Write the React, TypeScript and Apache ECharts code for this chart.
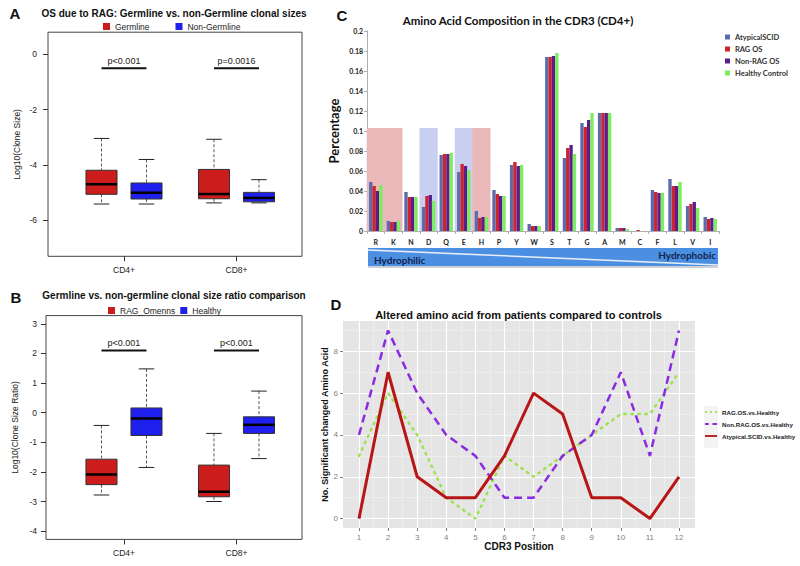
import React, { useEffect, useRef } from 'react';
import * as echarts from 'echarts';

// ---------- Panel A / B data : [min, Q1, median, Q3, max] per cell group ----------
const cellGroups = ['CD4+', 'CD8+'];
const aGermline = [
  [-5.41, -5.06, -4.7, -4.19, -3.04],
  [-5.37, -5.22, -5.05, -4.16, -3.07],
];
const aNonGermline = [
  [-5.41, -5.23, -5.0, -4.65, -3.8],
  [-5.37, -5.33, -5.19, -4.99, -4.53],
];
const aPValues = ['p<0.001', 'p=0.0016'];
const aTicks = [-6, -4, -2, 0];

const bRagOmenns = [
  [-2.78, -2.43, -2.09, -1.57, -0.43],
  [-3.0, -2.84, -2.67, -1.77, -0.7],
];
const bHealthy = [
  [-1.85, -0.77, -0.2, 0.16, 1.48],
  [-1.55, -0.7, -0.41, -0.14, 0.73],
];
const bPValues = ['p<0.001', 'p<0.001'];
const bTicks = [-4, -3, -2, -1, 0, 1, 2, 3];

// ---------- Panel C data ----------
const aminoAcids = ['R', 'K', 'N', 'D', 'Q', 'E', 'H', 'P', 'Y', 'W', 'S', 'T', 'G', 'A', 'M', 'C', 'F', 'L', 'V', 'I'];
const atypicalSCID = [0.049, 0.01, 0.039, 0.024, 0.076, 0.059, 0.02, 0.041, 0.066, 0.007, 0.174, 0.073, 0.108, 0.118, 0.003, 0.0, 0.041, 0.052, 0.025, 0.014];
const ragOS = [0.045, 0.009, 0.034, 0.035, 0.077, 0.067, 0.013, 0.037, 0.069, 0.005, 0.174, 0.083, 0.104, 0.118, 0.003, 0.001, 0.039, 0.045, 0.027, 0.012];
const nonRagOS = [0.04, 0.009, 0.034, 0.036, 0.077, 0.065, 0.014, 0.035, 0.065, 0.005, 0.175, 0.086, 0.111, 0.118, 0.003, 0.0, 0.038, 0.045, 0.029, 0.013];
const healthyControl = [0.046, 0.01, 0.034, 0.03, 0.078, 0.061, 0.014, 0.035, 0.066, 0.005, 0.178, 0.077, 0.118, 0.118, 0.002, 0.0, 0.038, 0.049, 0.023, 0.012];
const basicResidues = ['R', 'K', 'H'];
const acidicResidues = ['D', 'E'];
const shadeLevel = 0.103;

// ---------- Panel D data ----------
const cdr3Positions = [1, 2, 3, 4, 5, 6, 7, 8, 9, 10, 11, 12];
const ragVsHealthy = [3, 6, 4, 1, 0, 3, 2, 3, 4, 5, 5, 7];
const nonRagVsHealthy = [4, 9, 6, 4, 3, 1, 1, 3, 4, 7, 3, 9];
const atypicalVsHealthy = [0, 7, 2, 1, 1, 3, 6, 5, 1, 1, 0, 2];
const dYTicks = [0, 2, 4, 6, 8];
const dYMinor = [1, 3, 5, 7, 9];

const FONT_R = '"Liberation Sans", Arial, sans-serif';
const FONT_C = 'Lato, "Open Sans", sans-serif';

const boxRender = (params: any, api: any) => {
  const x = api.value(0);
  const c = (i: number) => api.coord([x, api.value(i)]);
  const pMin = c(1), pQ1 = c(2), pMed = c(3), pQ3 = c(4), pMax = c(5);
  const w = api.size([0.69, 0])[0];
  const cx = pMed[0];
  const color = api.visual('color');
  const dash = { stroke: '#555', lineWidth: 1, lineDash: [3, 2] };
  const solid = { stroke: '#222', lineWidth: 1 };
  return {
    type: 'group',
    children: [
      { type: 'line', shape: { x1: cx, y1: pMax[1], x2: cx, y2: pQ3[1] }, style: dash },
      { type: 'line', shape: { x1: cx, y1: pQ1[1], x2: cx, y2: pMin[1] }, style: dash },
      { type: 'line', shape: { x1: cx - w / 4, y1: pMax[1], x2: cx + w / 4, y2: pMax[1] }, style: solid },
      { type: 'line', shape: { x1: cx - w / 4, y1: pMin[1], x2: cx + w / 4, y2: pMin[1] }, style: solid },
      { type: 'rect', shape: { x: cx - w / 2, y: pQ3[1], width: w, height: pQ1[1] - pQ3[1] }, style: { fill: color, stroke: '#333', lineWidth: 1 } },
      { type: 'line', shape: { x1: cx - w / 2, y1: pMed[1], x2: cx + w / 2, y2: pMed[1] }, style: { stroke: '#000', lineWidth: 2.5 } },
    ],
  };
};

const boxSeries = (name: string, data: number[][], offset: number, axis: number, color: string) => ({
  type: 'custom',
  name,
  xAxisIndex: axis,
  yAxisIndex: axis,
  silent: true,
  itemStyle: { color },
  renderItem: boxRender,
  encode: { x: 0, y: [1, 2, 3, 4, 5] },
  data: data.map((q, i) => [i * 2.5 + 1.5 + offset, ...q]),
});

const pSeries = (labels: string[], level: number, axis: number) => ({
  type: 'custom',
  xAxisIndex: axis,
  yAxisIndex: axis,
  silent: true,
  encode: { x: [0, 1], y: 2 },
  renderItem: (params: any, api: any) => {
    const p1 = api.coord([api.value(0), api.value(2)]);
    const p2 = api.coord([api.value(1), api.value(2)]);
    return {
      type: 'group',
      children: [
        { type: 'line', shape: { x1: p1[0], y1: p1[1], x2: p2[0], y2: p2[1] }, style: { stroke: '#111', lineWidth: 2 } },
        {
          type: 'text',
          x: (p1[0] + p2[0]) / 2,
          y: p1[1] - 3,
          style: { text: labels[params.dataIndex], textAlign: 'center', textVerticalAlign: 'bottom', fontSize: 9, fontFamily: FONT_R, fill: '#222' },
        },
      ],
    };
  },
  data: labels.map((_, i) => [i * 2.5 + 1, i * 2.5 + 2, level]),
});

const groupLabel = (v: number) => cellGroups[Math.round((v - 1.5) / 2.5)] ?? '';

const rAxisX = (gridIndex: number, min: number, max: number) => ({
  type: 'value',
  gridIndex,
  min,
  max,
  axisLine: { show: false, onZero: false },
  splitLine: { show: false },
  axisTick: { show: true, length: 5, customValues: [1.5, 4], lineStyle: { color: '#333' } },
  axisLabel: { customValues: [1.5, 4], formatter: groupLabel, fontSize: 8.5, fontFamily: FONT_R, color: '#222', margin: 9 },
});

const rAxisY = (gridIndex: number, min: number, max: number, ticks: number[], name: string, margin: number) => ({
  type: 'value',
  gridIndex,
  min,
  max,
  name,
  nameLocation: 'middle',
  nameRotate: 90,
  nameGap: 27,
  nameTextStyle: { fontSize: 8.5, fontFamily: FONT_R, color: '#222' },
  axisLine: { show: false, onZero: false },
  splitLine: { show: false },
  axisTick: { show: true, length: 5, customValues: ticks, lineStyle: { color: '#333' } },
  axisLabel: { customValues: ticks, fontSize: 8.5, fontFamily: FONT_R, color: '#222', margin },
});

const lineIcon = 'path://M0,3h13v2h-13z';
const dashIcon = 'path://M0,3h4v2h-4z M8,3h5v2h-5z';
const dotIcon = 'path://M0,3h2v2h-2z M5.5,3h2v2h-2z M11,3h2v2h-2z';

export default function App() {
  const ref = useRef<HTMLDivElement>(null);
  useEffect(() => {
    if (!ref.current) return;
    const chart = echarts.init(ref.current, undefined, { renderer: 'svg' });
    const red = '#cc1c1c';
    const blue = '#1f1fee';

    const option: any = {
      animation: false,
      backgroundColor: '#fff',
      grid: [
        { left: 48, top: 32.2, width: 254, height: 224.1, show: true, borderColor: '#444', borderWidth: 1, backgroundColor: 'transparent' },
        { left: 46, top: 315.6, width: 256, height: 223.8, show: true, borderColor: '#444', borderWidth: 1, backgroundColor: 'transparent' },
        { left: 367, top: 31, width: 352, height: 200 },
        { left: 343, top: 321, width: 352, height: 207, show: true, backgroundColor: '#e5e5e5', borderWidth: 0 },
      ],
      xAxis: [
        rAxisX(0, -0.189, 5.456),
        rAxisX(1, -0.233, 5.456),
        {
          type: 'category',
          gridIndex: 2,
          data: aminoAcids,
          axisLine: { lineStyle: { color: '#b0b0b0' } },
          axisTick: { show: true, length: 3, interval: 0, lineStyle: { color: '#b0b0b0' } },
          axisLabel: { interval: 0, fontSize: 7, fontWeight: 'bold', fontFamily: FONT_C, color: '#222', margin: 7 },
        },
        {
          type: 'value',
          gridIndex: 3,
          min: 0.45,
          max: 12.55,
          name: 'CDR3 Position',
          nameLocation: 'middle',
          nameGap: 13,
          nameTextStyle: { fontSize: 10, fontWeight: 'bold', fontFamily: FONT_R, color: '#111' },
          axisLine: { show: false, onZero: false },
          axisTick: { show: true, length: 3, customValues: cdr3Positions, lineStyle: { color: '#7f7f7f' } },
          axisLabel: { customValues: cdr3Positions, fontSize: 8, fontFamily: FONT_R, color: '#7f7f7f', margin: 5 },
          splitLine: { show: true, lineStyle: { color: '#ffffff', width: 1.2 } },
        },
        {
          type: 'value',
          gridIndex: 3,
          position: 'top',
          min: 0.45,
          max: 12.55,
          axisLine: { show: false, onZero: false },
          axisTick: { show: false, customValues: cdr3Positions.slice(0, -1).map((p) => p + 0.5) },
          axisLabel: { show: false },
          splitLine: { show: true, lineStyle: { color: '#f2f2f2', width: 0.6 } },
        },
      ],
      yAxis: [
        rAxisY(0, -7.3, 0.8, aTicks, 'Log10(Clone Size)', 11),
        rAxisY(1, -4.28, 3.28, bTicks, 'Log10(Clone Size Ratio)', 9),
        {
          type: 'value',
          gridIndex: 2,
          min: 0,
          max: 0.2,
          interval: 0.02,
          name: 'Percentage',
          nameLocation: 'middle',
          nameRotate: 90,
          nameGap: 27,
          nameTextStyle: { fontSize: 13, fontWeight: 'bold', fontFamily: FONT_C, color: '#111' },
          axisLine: { show: true, lineStyle: { color: '#b0b0b0' } },
          axisTick: { show: true, length: 3, lineStyle: { color: '#b0b0b0' } },
          splitLine: { show: false },
          axisLabel: {
            fontSize: 7,
            fontWeight: 'bold',
            fontFamily: FONT_C,
            color: '#222',
            margin: 4,
            formatter: (v: number) => (v === 0 ? '0' : String(parseFloat(v.toFixed(2)))),
          },
        },
        {
          type: 'value',
          gridIndex: 3,
          min: -0.45,
          max: 9.45,
          name: 'No. Significant changed Amino Acid',
          nameLocation: 'middle',
          nameRotate: 90,
          nameGap: 11,
          nameTextStyle: { fontSize: 9, fontWeight: 'bold', fontFamily: FONT_R, color: '#111' },
          axisLine: { show: false, onZero: false },
          axisTick: { show: true, length: 3, customValues: dYTicks, lineStyle: { color: '#7f7f7f' } },
          axisLabel: { customValues: dYTicks, fontSize: 8, fontFamily: FONT_R, color: '#7f7f7f', margin: 5 },
          splitLine: { show: true, lineStyle: { color: '#ffffff', width: 1.2 } },
        },
        {
          type: 'value',
          gridIndex: 3,
          position: 'right',
          min: -0.45,
          max: 9.45,
          axisLine: { show: false, onZero: false },
          axisTick: { show: false, customValues: dYMinor },
          axisLabel: { show: false },
          splitLine: { show: true, lineStyle: { color: '#f2f2f2', width: 0.6 } },
        },
      ],
      legend: [
        {
          data: ['Germline', 'Non-Germline'],
          left: 103,
          top: 22,
          padding: 0,
          icon: 'rect',
          itemWidth: 7,
          itemHeight: 7,
          itemGap: 26,
          selectedMode: false,
          textStyle: { fontSize: 8.5, fontFamily: FONT_R, color: '#222' },
        },
        {
          data: ['RAG_Omenns', 'Healthy'],
          left: 108,
          top: 306,
          padding: 0,
          icon: 'rect',
          itemWidth: 7,
          itemHeight: 7,
          itemGap: 5,
          selectedMode: false,
          textStyle: { fontSize: 8.5, fontFamily: FONT_R, color: '#222' },
        },
        {
          data: ['AtypicalSCID', 'RAG OS', 'Non-RAG OS', 'Healthy Control'],
          left: 725,
          top: 32,
          padding: 0,
          orient: 'vertical',
          icon: 'rect',
          itemWidth: 5,
          itemHeight: 5,
          itemGap: 2,
          selectedMode: false,
          textStyle: { fontSize: 7.5, fontWeight: 'bold', fontFamily: FONT_C, color: '#333', lineHeight: 10 },
        },
        {
          data: [
            { name: 'RAG.OS.vs.Healthy', icon: dotIcon },
            { name: 'Non.RAG.OS.vs.Healthy', icon: dashIcon },
            { name: 'Atypical.SCID.vs.Healthy', icon: lineIcon },
          ],
          left: 705,
          top: 409,
          padding: 0,
          orient: 'vertical',
          itemWidth: 12,
          itemHeight: 8,
          itemGap: 6,
          selectedMode: false,
          textStyle: { fontSize: 6.2, fontWeight: 'bold', fontFamily: FONT_R, color: '#222' },
        },
      ],
      graphic: [
        { type: 'text', x: 15, y: 13, style: { text: 'A', fontSize: 15, fontWeight: 'bold', fontFamily: FONT_R, fill: '#111', textAlign: 'center', textVerticalAlign: 'middle' } },
        { type: 'text', x: 16, y: 297, style: { text: 'B', fontSize: 15, fontWeight: 'bold', fontFamily: FONT_R, fill: '#111', textAlign: 'center', textVerticalAlign: 'middle' } },
        { type: 'text', x: 342, y: 15, style: { text: 'C', fontSize: 15, fontWeight: 'bold', fontFamily: FONT_R, fill: '#111', textAlign: 'center', textVerticalAlign: 'middle' } },
        { type: 'text', x: 336, y: 304, style: { text: 'D', fontSize: 15, fontWeight: 'bold', fontFamily: FONT_R, fill: '#111', textAlign: 'center', textVerticalAlign: 'middle' } },
        { type: 'text', x: 174, y: 13, style: { text: 'OS due to RAG: Germline vs. non-Germline clonal sizes', fontSize: 10, fontWeight: 'bold', fontFamily: FONT_R, fill: '#111', textAlign: 'center', textVerticalAlign: 'middle' } },
        { type: 'text', x: 174, y: 295, style: { text: 'Germline vs. non-germline clonal size ratio comparison', fontSize: 10, fontWeight: 'bold', fontFamily: FONT_R, fill: '#111', textAlign: 'center', textVerticalAlign: 'middle' } },
        { type: 'text', x: 518, y: 20, style: { text: 'Amino Acid Composition in the CDR3 (CD4+)', fontSize: 11.5, fontWeight: 'bold', fontFamily: FONT_C, fill: '#111', textAlign: 'center', textVerticalAlign: 'middle' } },
        { type: 'text', x: 518.5, y: 315, style: { text: 'Altered amino acid from patients compared to controls', fontSize: 11, fontWeight: 'bold', fontFamily: FONT_R, fill: '#111', textAlign: 'center', textVerticalAlign: 'middle' } },
        // hydrophilic / hydrophobic band
        { type: 'rect', shape: { x: 368, y: 248, width: 350, height: 18 }, style: { fill: '#4b8fe2' } },
        { type: 'line', shape: { x1: 368, y1: 250, x2: 718, y2: 265 }, style: { stroke: '#e8eef8', lineWidth: 1.5 } },
        { type: 'line', shape: { x1: 368, y1: 267, x2: 718, y2: 267 }, style: { stroke: '#9aa3b0', lineWidth: 1.2 } },
        { type: 'text', x: 374, y: 260, style: { text: 'Hydrophilic', fontSize: 10, fontWeight: 'bold', fontFamily: FONT_C, fill: '#132450', textVerticalAlign: 'middle' } },
        { type: 'text', x: 716, y: 255, style: { text: 'Hydrophobic', fontSize: 10, fontWeight: 'bold', fontFamily: FONT_C, fill: '#132450', textAlign: 'right', textVerticalAlign: 'middle' } },
        // legend key background D
        { type: 'rect', z: -1, shape: { x: 704, y: 406, width: 14, height: 42 }, style: { fill: '#f3f3f3' } },
      ],
      series: [
        boxSeries('Germline', aGermline, -0.5, 0, red),
        boxSeries('Non-Germline', aNonGermline, 0.5, 0, blue),
        pSeries(aPValues, -0.5, 0),
        boxSeries('RAG_Omenns', bRagOmenns, -0.5, 1, red),
        boxSeries('Healthy', bHealthy, 0.5, 1, blue),
        pSeries(bPValues, 2.1, 1),
        {
          type: 'custom',
          xAxisIndex: 2,
          yAxisIndex: 2,
          silent: true,
          z: 1,
          renderItem: (params: any, api: any) => {
            const idx = api.value(0);
            const top = api.coord([idx, api.value(1)]);
            const bottom = api.coord([idx, 0]);
            const bw = api.size([1, 0])[0];
            return {
              type: 'rect',
              shape: { x: top[0] - bw / 2 - 0.3, y: top[1], width: bw + 0.6, height: bottom[1] - top[1] },
              style: { fill: api.value(2) === 0 ? '#eab8b8' : '#c9cff0' },
            };
          },
          data: aminoAcids
            .map((a, i) => (basicResidues.includes(a) ? [i, shadeLevel, 0] : acidicResidues.includes(a) ? [i, shadeLevel, 1] : null))
            .filter((d) => d !== null),
        },
        ...[
          ['AtypicalSCID', atypicalSCID, '#5a6cb0'],
          ['RAG OS', ragOS, '#d0222b'],
          ['Non-RAG OS', nonRagOS, '#5b1d8e'],
          ['Healthy Control', healthyControl, '#7ced5e'],
        ].map(([name, data, color]) => ({
          type: 'bar',
          name,
          xAxisIndex: 2,
          yAxisIndex: 2,
          data,
          z: 2,
          barGap: '0%',
          barCategoryGap: '24%',
          itemStyle: { color },
        })),
        {
          type: 'line',
          name: 'RAG.OS.vs.Healthy',
          xAxisIndex: 3,
          yAxisIndex: 3,
          data: cdr3Positions.map((p, i) => [p, ragVsHealthy[i]]),
          symbol: 'none',
          itemStyle: { color: '#9de24f' },
          lineStyle: { color: '#9de24f', width: 2.5, type: [1.5, 5.5], cap: 'round' },
          z: 3,
        },
        {
          type: 'line',
          name: 'Non.RAG.OS.vs.Healthy',
          xAxisIndex: 3,
          yAxisIndex: 3,
          data: cdr3Positions.map((p, i) => [p, nonRagVsHealthy[i]]),
          symbol: 'none',
          itemStyle: { color: '#8a2be2' },
          lineStyle: { color: '#8a2be2', width: 2.5, type: [8, 5] },
          z: 4,
        },
        {
          type: 'line',
          name: 'Atypical.SCID.vs.Healthy',
          xAxisIndex: 3,
          yAxisIndex: 3,
          data: cdr3Positions.map((p, i) => [p, atypicalVsHealthy[i]]),
          symbol: 'none',
          itemStyle: { color: '#b81616' },
          lineStyle: { color: '#b81616', width: 3 },
          z: 5,
        },
      ],
    };
    chart.setOption(option);
    return () => chart.dispose();
  }, []);
  return <div ref={ref} style={{ position: 'fixed', left: 0, top: 0, width: 800, height: 566, background: '#fff' }} />;
}
